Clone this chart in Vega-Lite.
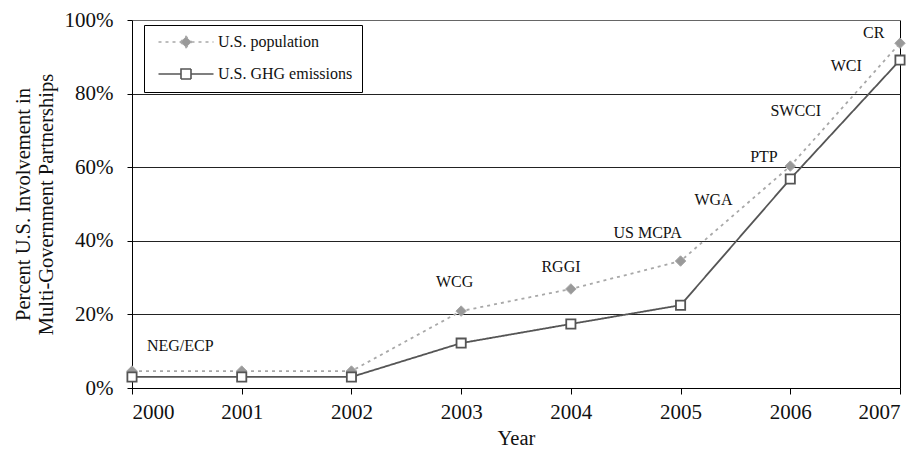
{
  "$schema": "https://vega.github.io/schema/vega-lite/v6.json",
  "width": 768,
  "height": 368,
  "autosize": "none",
  "padding": {"left": 132, "top": 20, "right": 22, "bottom": 63},
  "background": "white",
  "config": {
    "view": {"stroke": null},
    "font": "Liberation Serif",
    "axis": {"labelFont": "Liberation Serif", "titleFont": "Liberation Serif", "labelColor": "#111", "titleColor": "#111", "titleFontWeight": "normal", "domainColor": "#000", "tickColor": "#000"},
    "legend": {"labelFont": "Liberation Serif", "titleFont": "Liberation Serif"}
  },
  "datasets": {
    "series": [
      {"year": 2000, "value": 0.046, "series": "U.S. population"},
      {"year": 2001, "value": 0.046, "series": "U.S. population"},
      {"year": 2002, "value": 0.046, "series": "U.S. population"},
      {"year": 2003, "value": 0.209, "series": "U.S. population"},
      {"year": 2004, "value": 0.269, "series": "U.S. population"},
      {"year": 2005, "value": 0.345, "series": "U.S. population"},
      {"year": 2006, "value": 0.603, "series": "U.S. population"},
      {"year": 2007, "value": 0.937, "series": "U.S. population"},
      {"year": 2000, "value": 0.03, "series": "U.S. GHG emissions"},
      {"year": 2001, "value": 0.03, "series": "U.S. GHG emissions"},
      {"year": 2002, "value": 0.03, "series": "U.S. GHG emissions"},
      {"year": 2003, "value": 0.122, "series": "U.S. GHG emissions"},
      {"year": 2004, "value": 0.174, "series": "U.S. GHG emissions"},
      {"year": 2005, "value": 0.225, "series": "U.S. GHG emissions"},
      {"year": 2006, "value": 0.568, "series": "U.S. GHG emissions"},
      {"year": 2007, "value": 0.891, "series": "U.S. GHG emissions"}
    ],
    "labels": [
      {"year": 2000.44, "value": 0.114, "label": "NEG/ECP"},
      {"year": 2002.94, "value": 0.288, "label": "WCG"},
      {"year": 2003.91, "value": 0.329, "label": "RGGI"},
      {"year": 2004.70, "value": 0.421, "label": "US MCPA"},
      {"year": 2005.30, "value": 0.511, "label": "WGA"},
      {"year": 2005.76, "value": 0.628, "label": "PTP"},
      {"year": 2006.05, "value": 0.753, "label": "SWCCI"},
      {"year": 2006.51, "value": 0.875, "label": "WCI"},
      {"year": 2006.76, "value": 0.965, "label": "CR"}
    ]
  },
  "encoding": {
    "x": {
      "field": "year", "type": "quantitative",
      "scale": {"domain": [2000, 2007], "nice": false, "zero": false},
      "axis": {
        "title": "Year", "values": [2000, 2001, 2002, 2003, 2004, 2005, 2006, 2007], "format": "d",
        "labelFont": "Liberation Serif", "titleFont": "Liberation Serif",
        "labelFontSize": 21, "titleFontSize": 20.5, "tickSize": 6, "labelPadding": 7, "titlePadding": 6,
        "grid": true, "gridColor": "#000",
        "gridOpacity": {"condition": {"test": "datum.value == 2007", "value": 1}, "value": 0}
      }
    },
    "y": {
      "field": "value", "type": "quantitative",
      "scale": {"domain": [0, 1], "nice": false},
      "axis": {
        "title": ["Percent U.S. Involvement in", "Multi-Government Partnerships"],
        "values": [0, 0.2, 0.4, 0.6, 0.8, 1], "format": ".0%",
        "labelFont": "Liberation Serif", "titleFont": "Liberation Serif",
        "labelFontSize": 21, "titleFontSize": 20.5, "titleLineHeight": 23, "tickSize": 5, "labelPadding": 14, "titlePadding": 8,
        "grid": true,
        "gridColor": {"condition": {"test": "datum.value == 1", "value": "#666"}, "value": "#222"}
      }
    }
  },
  "layer": [
    {
      "data": {"name": "series"},
      "mark": {"type": "point", "opacity": 0, "size": 100, "strokeWidth": 1.6},
      "encoding": {
        "shape": {
          "field": "series", "type": "nominal",
          "scale": {"domain": ["U.S. population", "U.S. GHG emissions"], "range": ["M-5.5,0H-1.1M-1.1,0L0,-1.1L1.1,0L0,1.1ZM1.1,0H5.5", "M-5.5,0H-1M-1,-1H1V1H-1ZM1,0H5.5"]},
          "legend": {
            "title": null, "orient": "none", "legendX": 12, "legendY": 5,
            "strokeColor": "#000", "padding": 9, "fillColor": "white",
            "labelFont": "Liberation Serif", "labelFontSize": 16, "labelColor": "#111",
            "symbolSize": 100, "symbolOffset": 25, "labelOffset": 24, "rowPadding": 14,
            "symbolOpacity": 1, "symbolStrokeWidth": 1.6
          }
        },
        "fill": {
          "field": "series", "type": "nominal",
          "scale": {"domain": ["U.S. population", "U.S. GHG emissions"], "range": ["#999999", "white"]},
          "legend": {
            "title": null, "orient": "none", "legendX": 12, "legendY": 5,
            "strokeColor": "#000", "padding": 9, "fillColor": "white",
            "labelFont": "Liberation Serif", "labelFontSize": 16, "labelColor": "#111",
            "symbolSize": 100, "symbolOffset": 25, "labelOffset": 24, "rowPadding": 14,
            "symbolOpacity": 1, "symbolStrokeWidth": 1.6
          }
        },
        "stroke": {
          "field": "series", "type": "nominal",
          "scale": {"domain": ["U.S. population", "U.S. GHG emissions"], "range": ["#a8a8a8", "#555555"]},
          "legend": {
            "title": null, "orient": "none", "legendX": 12, "legendY": 5,
            "strokeColor": "#000", "padding": 9, "fillColor": "white",
            "labelFont": "Liberation Serif", "labelFontSize": 16, "labelColor": "#111",
            "symbolSize": 100, "symbolOffset": 25, "labelOffset": 24, "rowPadding": 14,
            "symbolOpacity": 1, "symbolStrokeWidth": 1.6
          }
        },
        "strokeDash": {
          "field": "series", "type": "nominal",
          "scale": {"domain": ["U.S. population", "U.S. GHG emissions"], "range": [[3, 4], [1, 0]]},
          "legend": {
            "title": null, "orient": "none", "legendX": 12, "legendY": 5,
            "strokeColor": "#000", "padding": 9, "fillColor": "white",
            "labelFont": "Liberation Serif", "labelFontSize": 16, "labelColor": "#111",
            "symbolSize": 100, "symbolOffset": 25, "labelOffset": 24, "rowPadding": 14,
            "symbolOpacity": 1, "symbolStrokeWidth": 1.6
          }
        }
      }
    },
    {
      "data": {"name": "series"},
      "mark": {"type": "line", "strokeWidth": 1.8},
      "encoding": {
        "stroke": {"field": "series", "type": "nominal", "legend": null},
        "strokeDash": {"field": "series", "type": "nominal", "legend": null}
      }
    },
    {
      "data": {"name": "series"},
      "transform": [{"filter": "datum.series == 'U.S. population'"}],
      "mark": {"type": "point", "shape": "diamond", "filled": true, "fill": "#999999", "stroke": "#a8a8a8", "strokeWidth": 1, "opacity": 1, "size": 110}
    },
    {
      "data": {"name": "series"},
      "transform": [{"filter": "datum.series == 'U.S. GHG emissions'"}],
      "mark": {"type": "point", "shape": "square", "filled": false, "fill": "white", "stroke": "#555555", "strokeWidth": 1.8, "opacity": 1, "size": 85}
    },
    {
      "data": {"name": "labels"},
      "mark": {"type": "text", "font": "Liberation Serif", "fontSize": 16, "color": "#111", "align": "center", "baseline": "middle"},
      "encoding": {
        "text": {"field": "label", "type": "nominal"}
      }
    }
  ]
}
